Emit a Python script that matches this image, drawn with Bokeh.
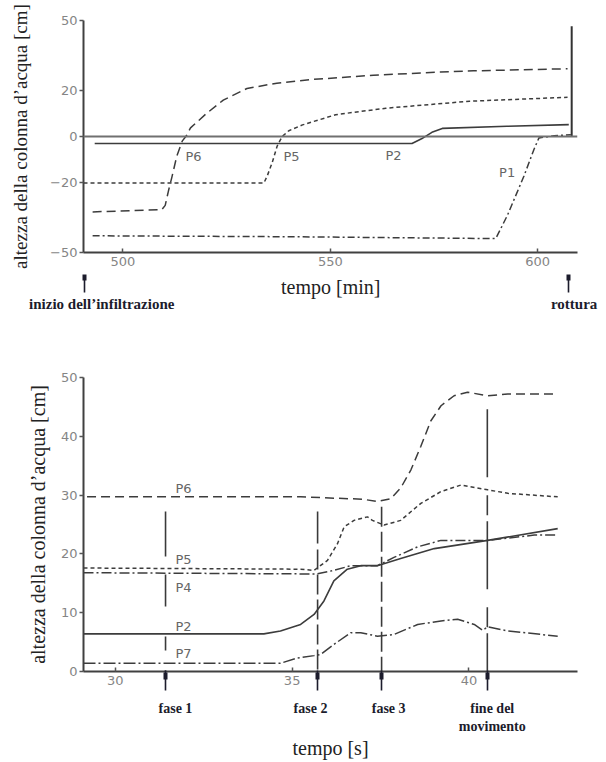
from bokeh.plotting import figure
from bokeh.layouts import column
from bokeh.models import FixedTicker, Label, Span, LinearAxis
from bokeh.embed import file_html
from bokeh.resources import INLINE

# ---------------- top chart data (tempo [min]) ----------------
top_x_ticks = [500, 550, 600]
top_y_ticks = [-50, -20, 0, 20, 50]
top_y_labels = {-50: "\u221250", -20: "\u221220", 0: "0", 20: "20", 50: "50"}

p6_top_t = [492.7, 509.4, 510.2, 511.0, 511.8, 513.0, 514.3, 515.3, 516.3, 520.2, 524.2, 529.9, 537.1, 545.0, 560.4, 576.6, 584.5, 607.2]
p6_top_v = [-32.5, -31.5, -29.7, -23.3, -17.6, -8.4, -2.0, 0.3, 3.7, 10.0, 15.7, 20.7, 23.0, 24.5, 26.4, 27.8, 28.3, 29.2]

p5_top_t = [490.5, 534.0, 534.8, 536.0, 537.2, 538.4, 540.0, 543.3, 551.3, 563.4, 583.6, 607.2]
p5_top_v = [-20.0, -20.0, -17.0, -11.2, -4.1, 0.0, 2.5, 5.0, 9.4, 12.2, 15.2, 16.9]

p2_top_t = [493.2, 569.7, 572.0, 574.5, 577.0, 592.6, 607.5]
p2_top_v = [-3.0, -3.0, -1.0, 1.8, 3.5, 4.4, 5.1]

p1_top_t = [492.7, 540.0, 589.9, 592.7, 596.7, 599.1, 600.3, 604.0, 608.0]
p1_top_v = [-42.8, -43.2, -44.0, -34.0, -17.0, -5.6, -0.6, 0.3, 0.8]

rottura_t = 608.2
rottura_v = [0.0, 47.5]

top_names = ["P6", "P5", "P2", "P1"]
top_name_t = [515.1, 538.7, 563.3, 590.7]
top_name_v = [-8.5, -8.5, -8.0, -15.4]

top_events_t = [490.7, 607.5]                       # arrows: inizio / rottura
top_event_label_t = [494.9, 608.8]
top_event_label = ["inizio dell\u2019infiltrazione", "rottura"]
top_xlabel_t = 550.1

# ---------------- bottom chart data (tempo [s]) ----------------
bot_x_ticks = [30, 35, 40]
bot_y_ticks = [0, 10, 20, 30, 40, 50]

p6_t = [29.2, 35.24, 37.0, 37.41, 37.79, 38.07, 38.36, 38.64, 38.92, 39.21, 39.58, 39.96, 40.53, 41.1, 42.51]
p6_v = [29.7, 29.7, 29.3, 28.9, 29.4, 31.2, 34.3, 38.3, 42.6, 45.2, 46.9, 47.5, 46.9, 47.2, 47.2]

p5_t = [29.1, 35.24, 35.62, 36.0, 36.28, 36.47, 36.75, 37.13, 37.27, 37.6, 38.07, 38.64, 39.21, 39.77, 40.53, 41.1, 42.51]
p5_v = [17.6, 17.4, 17.2, 18.9, 21.7, 24.6, 25.7, 26.3, 25.7, 24.9, 25.7, 28.6, 30.6, 31.7, 30.9, 30.3, 29.7]

p4_t = [29.1, 35.24, 35.71, 36.18, 36.66, 37.41, 37.88, 38.55, 39.21, 40.53, 41.85, 42.51]
p4_v = [16.8, 16.6, 16.6, 17.2, 18.0, 18.0, 19.4, 21.2, 22.3, 22.3, 23.2, 23.2]

p2_t = [29.1, 34.2, 34.67, 35.24, 35.62, 35.9, 36.18, 36.56, 36.94, 37.41, 38.07, 39.02, 40.53, 42.51]
p2_v = [6.4, 6.4, 6.9, 8.0, 9.7, 12.0, 15.4, 17.4, 18.0, 18.0, 19.2, 20.9, 22.3, 24.3]

p7_t = [29.1, 34.67, 35.15, 35.62, 35.81, 36.18, 36.66, 36.94, 37.41, 37.88, 38.55, 39.21, 39.68, 40.15, 40.39, 40.53, 41.1, 42.51]
p7_v = [1.4, 1.4, 2.3, 2.7, 2.9, 4.6, 6.6, 6.6, 6.0, 6.3, 8.0, 8.6, 8.9, 8.0, 7.0, 7.6, 6.9, 6.0]

bot_names = ["P6", "P5", "P4", "P2", "P7"]
bot_name_t = [31.7, 31.7, 31.7, 31.7, 31.7]
bot_name_v = [31.2, 19.0, 14.3, 7.6, 3.0]

fasi_t = [31.42, 35.72, 37.53, 40.52]
fasi_top = [27.2, 27.2, 28.0, 44.6]
fasi_label_t = [31.7, 35.52, 37.73, 40.66]
fasi_label = ["fase 1", "fase 2", "fase 3", "fine del"]
fasi_label2_t = [40.66]
fasi_label2 = ["movimento"]

LINE = "#3c3c3c"
TICK = "#858585"
ANN = "#1c1c2c"
SERIF = "Liberation Serif"
SANS = "DejaVu Sans"
YLAB = "altezza della colonna d\u2019acqua [cm]"


def style(p, xticks, yticks, ystand, ysize):
    p.outline_line_color = None
    p.xgrid.visible = False
    p.ygrid.visible = False
    for ax in (p.xaxis[0], p.yaxis[0]):
        ax.axis_line_color = "#404040"
        ax.axis_line_width = 2
        ax.major_tick_line_color = "#555555"
        ax.major_tick_line_width = 1.5
        ax.minor_tick_line_color = None
        ax.major_label_text_font = SANS
        ax.major_label_text_font_size = "13px"
        ax.major_label_text_color = TICK
        ax.axis_label_text_font = SERIF
        ax.axis_label_text_font_style = "normal"
        ax.axis_label_text_font_size = ysize
        ax.axis_label_text_color = "#222222"
    p.xaxis[0].ticker = FixedTicker(ticks=xticks)
    p.yaxis[0].ticker = FixedTicker(ticks=yticks)
    p.xaxis[0].major_tick_in = 4
    p.xaxis[0].major_tick_out = 0
    p.xaxis[0].major_label_standoff = 4
    p.yaxis[0].major_tick_in = 0
    p.yaxis[0].major_tick_out = 4
    p.yaxis[0].major_label_standoff = 2
    p.yaxis[0].axis_label = YLAB
    p.yaxis[0].axis_label_standoff = ystand


def text_axis(ticks, labels, font_size, bold, standoff, color,
              minor=None, minor_in=0, minor_out=0, minor_width=1.6, axis_label=None):
    ax = LinearAxis(ticker=FixedTicker(ticks=ticks, minor_ticks=minor or []),
                    major_label_overrides={t: s for t, s in zip(ticks, labels)})
    ax.axis_line_color = None
    ax.major_tick_line_color = None
    ax.major_tick_in = 0
    ax.major_tick_out = 0
    ax.major_label_standoff = standoff
    ax.major_label_text_font = SERIF
    ax.major_label_text_font_size = font_size
    ax.major_label_text_font_style = "bold" if bold else "normal"
    ax.major_label_text_color = color
    if minor:
        ax.minor_tick_line_color = ANN
        ax.minor_tick_line_width = minor_width
        ax.minor_tick_in = minor_in
        ax.minor_tick_out = minor_out
    else:
        ax.minor_tick_line_color = None
    if axis_label:
        ax.axis_label = axis_label
        ax.axis_label_text_font = SERIF
        ax.axis_label_text_font_style = "normal"
        ax.axis_label_text_font_size = "20px"
        ax.axis_label_text_color = "#222222"
        ax.axis_label_standoff = 0
    return ax


# ---------------- top figure ----------------
p1 = figure(width=600, height=318, x_range=(490.5, 609.6), y_range=(-50, 50),
            output_backend="svg", toolbar_location=None,
            min_border_left=83, min_border_right=23, min_border_top=20, min_border_bottom=66)
style(p1, top_x_ticks, top_y_ticks, 16, "19px")
p1.yaxis[0].major_label_overrides = top_y_labels
# x-axis title row, carrying the arrow heads
p1.add_layout(text_axis([top_xlabel_t], ["tempo [min]"], "20px", False, -5, "#222222",
                        minor=top_events_t, minor_in=-6, minor_out=12, minor_width=4), "below")
# event labels row, carrying the arrow shafts
p1.add_layout(text_axis(top_event_label_t, top_event_label, "15px", True, -5, ANN,
                        minor=top_events_t, minor_in=24, minor_out=-8), "below")

p1.add_layout(Span(location=0, dimension="width", line_color="#707070", line_width=2))
p1.line(p6_top_t, p6_top_v, line_color=LINE, line_width=1.5, line_dash="9 5")
p1.line(p5_top_t, p5_top_v, line_color=LINE, line_width=1.5, line_dash="4 3")
p1.line(p2_top_t, p2_top_v, line_color=LINE, line_width=1.6)
p1.line(p1_top_t, p1_top_v, line_color=LINE, line_width=1.5, line_dash="7 3 2 3")
p1.line([rottura_t, rottura_t], rottura_v, line_color="#333333", line_width=2)

for n, t, v in zip(top_names, top_name_t, top_name_v):
    p1.add_layout(Label(x=t, y=v, text=n, text_font=SANS, text_font_size="13px",
                        text_color="#666666", text_baseline="middle"))

# ---------------- bottom figure ----------------
p2 = figure(width=600, height=443, x_range=(29.1, 43.07), y_range=(0, 50),
            output_backend="svg", toolbar_location=None,
            min_border_left=83, min_border_right=23, min_border_top=59, min_border_bottom=90)
style(p2, bot_x_ticks, bot_y_ticks, 9, "20px")
# phase labels row, carrying the arrow shafts
p2.add_layout(text_axis(fasi_label_t, fasi_label, "14px", True, 10, ANN,
                        minor=fasi_t, minor_in=17, minor_out=3), "below")
# second label row, carrying the arrow heads
p2.add_layout(text_axis(fasi_label2_t, fasi_label2, "14px", True, 0, ANN,
                        minor=fasi_t, minor_in=46, minor_out=-39, minor_width=4,
                        axis_label="tempo [s]"), "below")

p2.line(p6_t, p6_v, line_color=LINE, line_width=1.5, line_dash="9 5")
p2.line(p5_t, p5_v, line_color=LINE, line_width=1.5, line_dash="4 3")
p2.line(p4_t, p4_v, line_color=LINE, line_width=1.5, line_dash="10 3 2 3")
p2.line(p2_t, p2_v, line_color=LINE, line_width=1.6)
p2.line(p7_t, p7_v, line_color=LINE, line_width=1.5, line_dash="12 3 2 3")

dashes = ["45 18 32 30 14 20", "32 6 20 5 20 5 20 5 20 5 20 5", "20 5", "68 18 20 6"]
for t, top, d in zip(fasi_t, fasi_top, dashes):
    p2.line([t, t], [top, 0], line_color="#3a3a3a", line_width=1.6, line_dash=d)

for n, t, v in zip(bot_names, bot_name_t, bot_name_v):
    p2.add_layout(Label(x=t, y=v, text=n, text_font=SANS, text_font_size="13px",
                        text_color="#666666", text_baseline="middle"))

layout = column(p1, p2)
open("out.html", "w").write(file_html(layout, INLINE))
